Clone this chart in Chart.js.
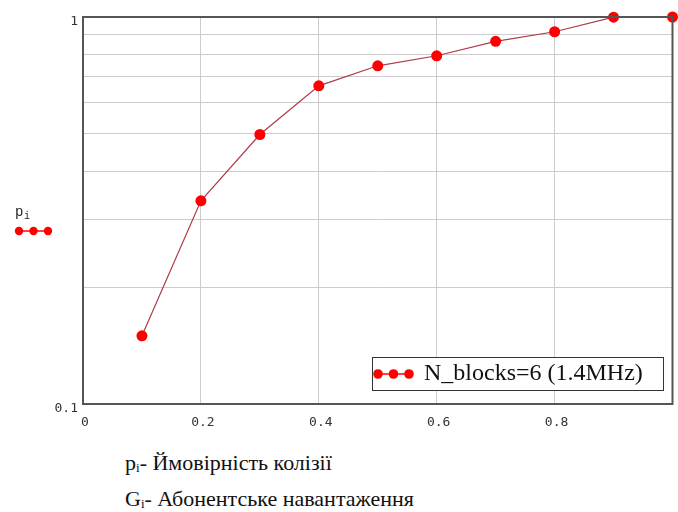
<!DOCTYPE html>
<html>
<head>
<meta charset="utf-8">
<script src="https://cdn.jsdelivr.net/npm/chart.js@4"></script>
<style>
    body { margin: 0; background: #fff; }
    #wrap { position: relative; width: 678px; height: 512px; }
    #chart { position: absolute; left: 0; top: 0; }
    .caption {
        position: absolute;
        left: 125px;
        font-family: "Liberation Serif", "DejaVu Serif", serif;
        font-size: 22px;
        line-height: 22px;
        color: #111;
        white-space: nowrap;
    }
    .caption sub { font-size: 13px; vertical-align: -2px; line-height: 0; }
</style>
</head>
<body>
<div id="wrap">
    <canvas id="chart" width="678" height="430"></canvas>
    <div class="caption" style="top: 452px;">p<sub>i</sub>- Ймовірність колізії</div>
    <div class="caption" style="top: 488px;">G<sub>i</sub>- Абонентське навантаження</div>
</div>
<script>
// load G and collision probability p
const loadG = [0.1, 0.2, 0.3, 0.4, 0.5, 0.6, 0.7, 0.8, 0.9, 1.0];
const probP = [0.150, 0.335, 0.497, 0.664, 0.748, 0.794, 0.865, 0.916, 0.999, 1.0];
const seriesLabel = 'N_blocks=6 (1.4MHz)';
const xTicks = [0, 0.2, 0.4, 0.6, 0.8, 1];
const yGrid = [0.1, 0.2, 0.3, 0.4, 0.5, 0.6, 0.7, 0.8, 0.9, 1];
const yLabels = [0.1, 1];

const red = '#ff0000';
const lineColor = '#b03a48';

// frame, legend box and the p_i label on the left
const extras = {
    id: 'extras',
    afterDraw(chart) {
        const ctx = chart.ctx;
        const a = chart.chartArea;
        ctx.save();
        ctx.strokeStyle = '#555';
        ctx.lineWidth = 2;
        ctx.strokeRect(a.left, a.top, a.right - a.left, a.bottom - a.top);

        const dot = (x, y, r) => {
            ctx.beginPath();
            ctx.arc(x, y, r, 0, Math.PI * 2);
            ctx.fillStyle = red;
            ctx.fill();
        };
        const dots = (x0, y, gap, r) => {
            ctx.strokeStyle = red;
            ctx.lineWidth = 1.5;
            ctx.beginPath();
            ctx.moveTo(x0, y);
            ctx.lineTo(x0 + 2 * gap, y);
            ctx.stroke();
            for (let i = 0; i < 3; i++) dot(x0 + i * gap, y, r);
        };

        // legend box
        ctx.fillStyle = '#fff';
        ctx.fillRect(372, 357, 291, 33);
        ctx.strokeStyle = '#333';
        ctx.lineWidth = 1;
        ctx.strokeRect(372.5, 357.5, 291, 33);
        dots(378, 374, 15.5, 4.8);
        ctx.fillStyle = '#111';
        ctx.font = '24px "Liberation Serif"';
        ctx.textBaseline = 'middle';
        ctx.fillText(seriesLabel, 424, 374);

        // p_i label
        ctx.fillStyle = '#222';
        ctx.font = '14px "Liberation Mono"';
        ctx.textBaseline = 'alphabetic';
        ctx.fillText('p', 15, 216);
        ctx.font = '10px "Liberation Mono"';
        ctx.fillText('i', 24, 219);
        dots(19, 231, 14.5, 4.2);
        ctx.restore();
    }
};

new Chart(document.getElementById('chart'), {
    type: 'line',
    data: {
        datasets: [{
            label: seriesLabel,
            data: loadG.map((g, i) => ({ x: g, y: probP[i] })),
            borderColor: lineColor,
            borderWidth: 1.2,
            pointRadius: 5.5,
            pointBackgroundColor: red,
            pointBorderColor: red,
            pointBorderWidth: 0,
            tension: 0,
            clip: false,
        }]
    },
    options: {
        responsive: false,
        animation: false,
        layout: { padding: { top: 17, right: 2, left: 0, bottom: 0 } },
        plugins: { legend: { display: false }, tooltip: { enabled: false } },
        scales: {
            x: {
                type: 'linear',
                min: 0,
                max: 1,
                afterBuildTicks: s => { s.ticks = xTicks.map(v => ({ value: v })); },
                afterFit: s => { s.height = 26; s.paddingLeft = 0; s.paddingRight = 0; },
                grid: { color: '#cccccc', lineWidth: 1, drawTicks: false },
                border: { display: false },
                ticks: {
                    padding: 11,
                    labelOffset: 2,
                    color: '#333',
                    font: { family: 'DejaVu Sans Mono', size: 13 },
                    callback: v => v === 1 ? '' : (v === 0 ? '0' : v.toFixed(1)),
                    maxRotation: 0,
                    autoSkip: false,
                },
            },
            y: {
                type: 'logarithmic',
                min: 0.1,
                max: 1,
                afterBuildTicks: s => { s.ticks = yGrid.map(v => ({ value: v })); },
                afterFit: s => { s.width = 83; s.paddingTop = 0; s.paddingBottom = 0; },
                grid: { color: '#cccccc', lineWidth: 1, drawTicks: false },
                border: { display: false },
                ticks: {
                    padding: 5,
                    labelOffset: 5,
                    color: '#333',
                    font: { family: 'DejaVu Sans Mono', size: 13 },
                    autoSkip: false,
                    callback: v => yLabels.some(t => Math.abs(t - v) < 1e-9) ? String(v) : '',
                },
            },
        },
    },
    plugins: [extras],
});
</script>
</body>
</html>
